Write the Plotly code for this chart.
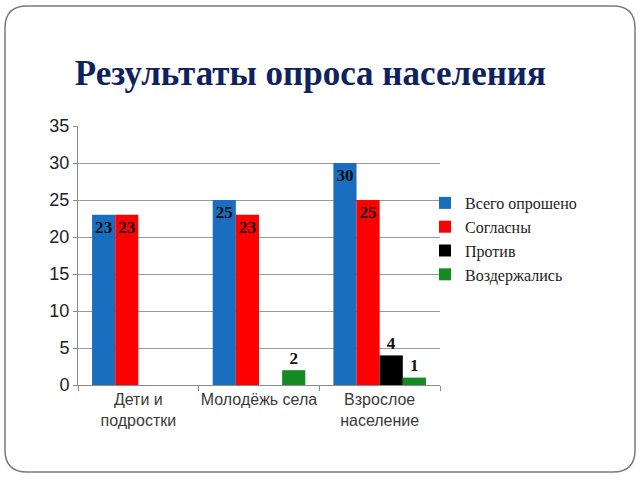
import plotly.graph_objects as go

categories = ["Дети и<br>подростки", "Молодёжь села", "Взрослое<br>население"]
series_names = ["Всего опрошено", "Согласны", "Против", "Воздержались"]
total = [23, 25, 30]
agree = [23, 23, 25]
against = [None, None, 4]
abstain = [None, 2, 1]
colors = ["#1a6ec0", "#ff0000", "#000000", "#148a22"]
title_text = "Результаты опроса населения"

series_values = [total, agree, against, abstain]

fig = go.Figure()
for name, vals, col in zip(series_names, series_values, colors):
    pos = []
    for v in vals:
        pos.append("outside" if (v is not None and v < 10) else "inside")
    fig.add_trace(go.Bar(
        x=categories, y=vals, name=name,
        marker=dict(color=col, line=dict(width=0)),
        text=[("" if v is None else str(v)) for v in vals],
        textposition=pos,
        insidetextanchor="end",
        textangle=0,
        cliponaxis=False,
        textfont=dict(family="Liberation Serif", size=19, color="#111111", weight="bold"),
    ))

W, H = 640, 480
rx, ry = 22 / W, 22 / H
x0, x1 = 5 / W, 635 / W
y0, y1 = 1 - 472 / H, 1 - 6 / H
path = (f"M {x0+rx},{y1} L {x1-rx},{y1} Q {x1},{y1} {x1},{y1-ry} "
        f"L {x1},{y0+ry} Q {x1},{y0} {x1-rx},{y0} L {x0+rx},{y0} "
        f"Q {x0},{y0} {x0},{y0+ry} L {x0},{y1-ry} Q {x0},{y1} {x0+rx},{y1} Z")

fig.update_layout(
    template="none",
    width=W, height=H,
    margin=dict(l=0, r=0, t=0, b=0, pad=0, autoexpand=False),
    paper_bgcolor="white", plot_bgcolor="white",
    barmode="group", bargap=0.233, bargroupgap=0,
    uniformtext=dict(minsize=12, mode="show"),
    title=dict(text=title_text, x=0.485, xanchor="center", y=1 - 73 / H, yanchor="middle",
               font=dict(family="Liberation Serif", size=35, color="#10225e", weight="bold")),
    xaxis=dict(domain=[78 / W, 440 / W], showline=True, linecolor="#8a8a8a", linewidth=1,
               ticks="outside", tickson="boundaries", ticklen=5, tickcolor="#8a8a8a",
               tickangle=0,
               tickfont=dict(family="Liberation Sans", size=16, color="#3a3a3a"),
               showgrid=False, automargin=False),
    yaxis=dict(domain=[1 - 385 / H, 1 - 126 / H], range=[0, 35], dtick=5,
               showline=True, linecolor="#8a8a8a", linewidth=1,
               ticks="outside", ticklen=4, tickcolor="#8a8a8a",
               showgrid=True, gridcolor="#9a9a9a", gridwidth=1, zeroline=False,
               tickfont=dict(family="Liberation Sans", size=18, color="#222222"),
               automargin=False),
    legend=dict(x=425 / W, y=1 - 186 / H, xanchor="left", yanchor="top",
                font=dict(family="Liberation Serif", size=16, color="#222222"),
                itemwidth=30, bgcolor="rgba(0,0,0,0)", borderwidth=0, tracegroupgap=0),
    shapes=[dict(type="path", xref="paper", yref="paper", path=path,
                 line=dict(color="#7a7a7a", width=1.5), fillcolor="rgba(0,0,0,0)", layer="below")],
)

fig.write_html("out.html")
